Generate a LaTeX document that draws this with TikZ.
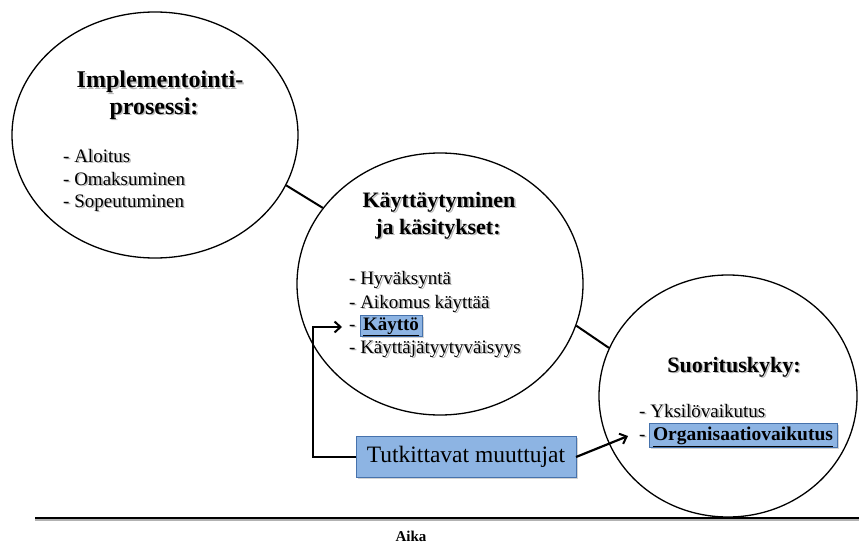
\documentclass[tikz,border=0pt]{standalone}
\usepackage{fontspec}
\setmainfont{Liberation Serif}
\usetikzlibrary{shapes.geometric,arrows.meta,shadows}

\definecolor{hlfill}{RGB}{141,180,227}
\definecolor{hlborder}{RGB}{70,114,172}

% text with a soft grey drop shadow: name, style, position, text
\newcommand\shadowed[4]{%
  \node[#2,text=black!28,xshift=1.6pt,yshift=-1.6pt] at (#3) {#4};
  \node[#2] (#1) at (#3) {#4};}

\begin{document}
\begin{tikzpicture}[x=1pt,y=-1pt,
  bubble/.style={draw,line width=1.3pt,ellipse,inner sep=0pt},
  bigtitle/.style={font=\bfseries\fontsize{24}{28}\selectfont,anchor=base,inner sep=0pt},
  title/.style={font=\bfseries\fontsize{22}{26}\selectfont,anchor=base,inner sep=0pt},
  item/.style={font=\fontsize{19}{22}\selectfont,anchor=base west,inner sep=0pt},
  link/.style={line width=2pt},
  pointer/.style={line width=2.2pt,-{Straight Barb[length=6pt,width=11pt,line width=2pt]}},
  hl/.style={draw=hlborder,fill=hlfill,line width=0.8pt,outer sep=0pt,
    drop shadow={shadow xshift=1.6pt,shadow yshift=-1.6pt,opacity=.35}},
]
\useasboundingbox (0,0) rectangle (859,543);

% the three phases
\node[bubble,minimum width=286pt,minimum height=246pt] (impl) at (155,135) {};
\node[bubble,minimum width=286pt,minimum height=262pt] (kay) at (440,284) {};
\node[bubble,minimum width=258pt,minimum height=242pt] (suor) at (728,396) {};

\draw[link] (impl.-21.4) -- (kay.147.2);
\draw[link] (kay.-17.7) -- (suor.158.3);

% implementation process
\shadowed{t1a}{bigtitle}{160,88}{Implementointi-}
\shadowed{t1b}{bigtitle}{154,114}{prosessi:}
\shadowed{i1}{item}{63,162}{- Aloitus}
\shadowed{i2}{item}{63,185}{- Omaksuminen}
\shadowed{i3}{item}{63,207}{- Sopeutuminen}

% behaviour and perceptions
\shadowed{t2a}{title}{439,207}{Käyttäytyminen}
\shadowed{t2b}{title}{438,234}{ja käsitykset:}
\shadowed{k1}{item}{349,284}{- Hyväksyntä}
\shadowed{k2}{item}{349,308}{- Aikomus\ käyttää}
\shadowed{k3}{item}{349,330}{-}
\node[hl,anchor=base,minimum width=62pt,inner xsep=0pt,inner ysep=2pt,
  text height=13pt,text depth=4pt,font=\bfseries\fontsize{19}{22}\selectfont]
  (kaytto) at (391,330) {\underline{Käyttö}};
\shadowed{k4}{item}{349,353}{- Käyttäjätyytyväisyys}

% performance
\shadowed{t3}{title}{734,372}{Suorituskyky:}
\shadowed{s1}{item}{639,417}{- Yksilövaikutus}
\shadowed{s2}{item}{639,440}{-}
\node[hl,anchor=base,minimum width=188pt,inner xsep=0pt,inner ysep=2pt,
  text height=15pt,text depth=5pt,font=\bfseries\fontsize{19.5}{22}\selectfont]
  (org) at (743,440) {\underline{Organisaatiovaikutus}};

% variables under study
\node[hl,minimum width=220pt,minimum height=41pt,inner sep=0pt,
  font=\fontsize{23.5}{27}\selectfont] (tutk) at (466,457) {Tutkittavat muuttujat};

\coordinate (kaytip) at (342,327);
\coordinate (orgtip) at (628,436);
\draw[pointer] (tutk.west) -- ++(-43,0) |- (kaytip);
\draw[pointer] (tutk.east) -- (orgtip);

% time axis
\coordinate (ax0) at (35,518);
\coordinate (ax1) at (859,518);
\draw[black!30,line width=2pt] ([yshift=-2pt]ax0) -- ([yshift=-2pt]ax1);
\draw[line width=2pt] (ax0) -- (ax1);
\node[font=\bfseries\fontsize{15}{18}\selectfont,anchor=base,inner sep=0pt] (aika) at (411,541) {Aika};
\end{tikzpicture}
\end{document}
